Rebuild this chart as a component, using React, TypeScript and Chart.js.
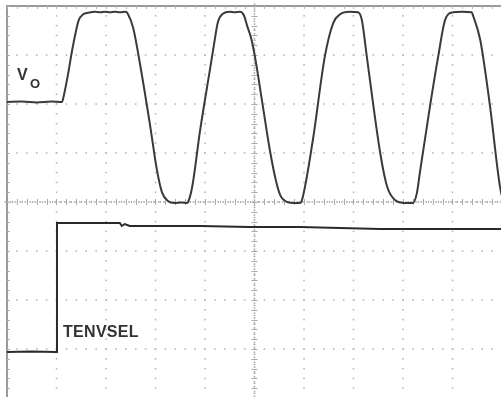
import React, { useEffect, useRef } from "react";
import { Chart, registerables } from "chart.js";

Chart.register(...registerables);

// Time axis in screen divisions, level axis in vertical divisions (center = 0)
const voTime = [
  0, 0.3, 0.6, 0.9, 1.11,
  1.15, 1.23, 1.31, 1.39, 1.45, 1.54, 1.64, 1.78, 1.88, 1.98, 2.08, 2.18, 2.28, 2.4, 2.44,
  2.55, 2.69, 2.89, 3.03, 3.13, 3.25, 3.39, 3.52, 3.64,
  3.66, 3.74, 3.9, 4.1, 4.18, 4.26, 4.36, 4.5, 4.6, 4.71, 4.79,
  4.85, 4.93, 5.01, 5.15, 5.31, 5.43, 5.52, 5.66, 5.8, 5.92,
  5.96, 6.18, 6.42, 6.59, 6.73, 6.93, 7.09,
  7.17, 7.27, 7.54, 7.68, 7.84, 8.04, 8.2,
  8.28, 8.34, 8.55, 8.71, 8.85, 9.01, 9.19, 9.39,
  9.41, 9.56, 9.76, 9.96, 10.06,
];
const voLevel = [
  2.04, 2.05, 2.03, 2.05, 2.04,
  2.18, 2.59, 3.06, 3.47, 3.71, 3.83, 3.86, 3.88, 3.87, 3.88, 3.87, 3.88, 3.87, 3.88, 3.84,
  3.55, 2.8, 1.57, 0.65, 0.2, 0.02, -0.02, -0.01, -0.02,
  0.0, 0.3, 1.45, 2.7, 3.2, 3.67, 3.84, 3.88, 3.87, 3.88, 3.8,
  3.6, 3.35, 2.96, 2.08, 1.06, 0.45, 0.14, 0.0, -0.02, -0.02,
  0.04, 1.27, 2.96, 3.65, 3.83, 3.88, 3.87,
  3.71, 2.96, 1.0, 0.31, 0.04, -0.02, -0.02,
  0.18, 0.59, 1.98, 2.96, 3.71, 3.87, 3.88, 3.87,
  3.82, 3.31, 1.94, 0.31, -0.1,
];

const enTime = [0, 0.5, 1.0, 1.01, 2.28, 2.32, 2.38, 2.48, 3.9, 4.9, 5.92, 6.73, 7.54, 10.0];
const enLevel = [-3.06, -3.05, -3.06, -0.43, -0.43, -0.49, -0.45, -0.49, -0.49, -0.51, -0.51, -0.53, -0.55, -0.55];

const xDivs = 10;
const yDivs = 4;
const minorStep = 0.2;

const graticule = {
  id: "graticule",
  beforeDatasetsDraw(chart: any) {
    const { ctx, scales } = chart;
    const x = scales.x;
    const y = scales.y;
    ctx.save();
    ctx.fillStyle = "#b8b8b8";
    // vertical dotted grid lines
    for (let i = 1; i <= xDivs; i++) {
      if (i === 5) continue;
      const px = x.getPixelForValue(i);
      for (let j = -yDivs * 5; j <= yDivs * 5; j++) {
        const py = y.getPixelForValue(j * minorStep);
        ctx.fillRect(px - 0.75, py - 0.75, 1.6, 1.6);
      }
    }
    // horizontal dotted grid lines
    for (let k = -yDivs + 1; k <= yDivs - 1; k++) {
      if (k === 0) continue;
      const py = y.getPixelForValue(k);
      for (let j = 0; j <= xDivs * 5; j++) {
        const px = x.getPixelForValue(j * minorStep);
        ctx.fillRect(px - 0.75, py - 0.75, 1.6, 1.6);
      }
    }
    // center axes with minor ticks
    ctx.strokeStyle = "#aaaaaa";
    ctx.lineWidth = 1;
    const cx = x.getPixelForValue(5);
    const cy = y.getPixelForValue(0);
    ctx.beginPath();
    for (let j = -yDivs * 10; j <= yDivs * 10; j++) {
      const py = Math.round(y.getPixelForValue(j * 0.1)) + 0.5;
      const len = j % 2 === 0 ? 3 : 1;
      ctx.moveTo(cx - len, py);
      ctx.lineTo(cx + len, py);
    }
    for (let j = 0; j <= xDivs * 10; j++) {
      const px = Math.round(x.getPixelForValue(j * 0.1)) + 0.5;
      const len = j % 2 === 0 ? 3 : 1;
      ctx.moveTo(px, cy - len);
      ctx.lineTo(px, cy + len);
    }
    ctx.stroke();
    ctx.fillStyle = "#b0b0b0";
    for (let j = -yDivs * 10; j <= yDivs * 10; j++) {
      const py = y.getPixelForValue(j * 0.1);
      ctx.fillRect(cx - 0.75, py - 2.5, 1.5, 2);
    }
    for (let j = 0; j <= xDivs * 10; j++) {
      const px = x.getPixelForValue(j * 0.1);
      ctx.fillRect(px - 2.5, cy - 0.75, 2, 1.5);
    }
    // borders (left and top) with inward ticks
    const lx = x.getPixelForValue(0);
    const ty = y.getPixelForValue(yDivs);
    ctx.strokeStyle = "#9a9a9a";
    ctx.lineWidth = 2;
    ctx.beginPath();
    ctx.moveTo(lx, chart.height);
    ctx.lineTo(lx, ty);
    ctx.lineTo(chart.width, ty);
    ctx.stroke();
    ctx.lineWidth = 1;
    ctx.strokeStyle = "#b5b5b5";
    ctx.beginPath();
    for (let j = -yDivs * 5; j <= yDivs * 5; j++) {
      const py = Math.round(y.getPixelForValue(j * minorStep)) + 0.5;
      ctx.moveTo(lx, py);
      ctx.lineTo(lx + 3, py);
    }
    for (let j = 0; j <= xDivs * 5; j++) {
      const px = Math.round(x.getPixelForValue(j * minorStep)) + 0.5;
      ctx.moveTo(px, ty);
      ctx.lineTo(px, ty + 3);
    }
    ctx.stroke();
    ctx.restore();
  },
};

export default function App() {
  const ref = useRef<HTMLCanvasElement>(null);

  useEffect(() => {
    if (!ref.current) return;
    const chart = new Chart(ref.current, {
      type: "line",
      data: {
        datasets: [
          {
            label: "VO",
            data: voTime.map((t, i) => ({ x: t, y: voLevel[i] })),
            borderColor: "#3a3a3a",
            borderWidth: 2,
            pointRadius: 0,
            cubicInterpolationMode: "monotone",
          },
          {
            label: "TENVSEL",
            data: enTime.map((t, i) => ({ x: t, y: enLevel[i] })),
            borderColor: "#2a2a2a",
            borderWidth: 2,
            pointRadius: 0,
            tension: 0,
          },
        ],
      },
      options: {
        responsive: false,
        animation: false,
        layout: { padding: 0 },
        plugins: { legend: { display: false }, tooltip: { enabled: false } },
        scales: {
          x: { type: "linear", min: -0.141, max: 9.98, display: false },
          y: { type: "linear", min: -3.98, max: 4.122, display: false },
        },
      },
      plugins: [graticule],
    });
    return () => chart.destroy();
  }, []);

  const font = "'Liberation Sans', Arial, sans-serif";
  return (
    <div style={{ position: "fixed", left: 0, top: 0, width: 501, height: 397, background: "#fff" }}>
      <canvas ref={ref} width={501} height={397} style={{ display: "block" }} />
      <span
        style={{
          position: "absolute", left: 17, top: 67, fontFamily: font, fontWeight: 700,
          fontSize: 16, lineHeight: "16px", color: "#333",
        }}
      >
        V
      </span>
      <span
        style={{
          position: "absolute", left: 30, top: 77, fontFamily: font, fontWeight: 700,
          fontSize: 13, lineHeight: "13px", color: "#333",
        }}
      >
        O
      </span>
      <span
        style={{
          position: "absolute", left: 63, top: 323, fontFamily: font, fontWeight: 700,
          fontSize: 16, lineHeight: "17px", color: "#333", letterSpacing: "0.3px",
        }}
      >
        TENVSEL
      </span>
    </div>
  );
}
